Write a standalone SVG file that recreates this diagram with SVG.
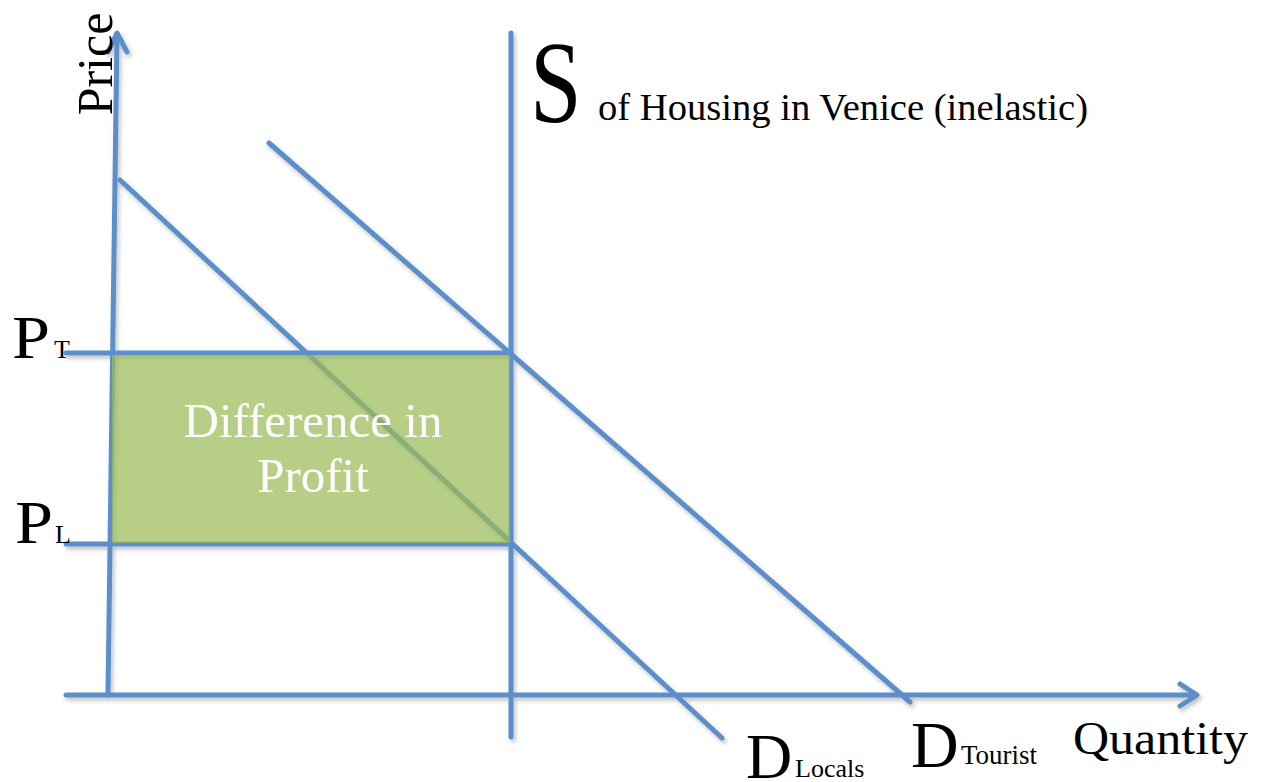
<svg xmlns="http://www.w3.org/2000/svg" width="1261" height="782" viewBox="0 0 1261 782">
<style>
.ln{stroke:#5B8FC9;stroke-width:5;fill:none;stroke-linecap:round;stroke-linejoin:round}
.t{font-family:"Liberation Serif","DejaVu Serif",serif;fill:#000}
.w{font-family:"Liberation Serif","DejaVu Serif",serif;fill:#fff}
</style>
<defs>
<filter id="sh" x="-10%" y="-10%" width="120%" height="120%">
<feDropShadow dx="2" dy="3" stdDeviation="2" flood-color="#000" flood-opacity="0.25"/>
</filter>
</defs>
<rect width="1261" height="782" fill="#fff"/>
<g id="connectors" filter="url(#sh)">
<line class="ln" x1="108" y1="695" x2="117" y2="34"/>
<polyline class="ln" points="108,52 117,33 127,52"/>
<line class="ln" x1="66" y1="695" x2="1196" y2="695"/>
<polyline class="ln" points="1180,684 1197,695 1180,706"/>
<line class="ln" x1="511" y1="33" x2="511" y2="737"/>
<line class="ln" x1="66" y1="353" x2="511" y2="353"/>
<line class="ln" x1="66" y1="544" x2="511" y2="544"/>
<line class="ln" x1="269" y1="143" x2="910" y2="702"/>
<line class="ln" x1="120" y1="180" x2="722" y2="738"/>
</g>
<g id="profit">
<rect x="112" y="355" width="398" height="188" fill="#9BBB59" fill-opacity="0.72"/>
<text class="w" x="313" y="437" font-size="49" text-anchor="middle">Difference in</text>
<text class="w" x="313" y="492" font-size="49" text-anchor="middle">Profit</text>
</g>
<g id="price-label">
<text class="t" transform="translate(112,64) rotate(-90)" font-size="50" text-anchor="middle">Price</text>
</g>
<g id="supply-label">
<text class="t" transform="translate(530,122) scale(0.8,1)" font-size="116">S</text>
<text class="t" x="598" y="120" font-size="37" textLength="490" lengthAdjust="spacingAndGlyphs">of Housing in Venice (inelastic)</text>
</g>
<g id="pt-label">
<text class="t" transform="translate(12,358) scale(1.1,1)" font-size="62">P</text>
<text class="t" x="54" y="358" font-size="26">T</text>
</g>
<g id="pl-label">
<text class="t" transform="translate(15,543) scale(1.1,1)" font-size="62">P</text>
<text class="t" x="55" y="543" font-size="26">L</text>
</g>
<g id="dlocals-label">
<text class="t" x="746" y="778" font-size="64">D</text>
<text class="t" x="795" y="777" font-size="26">Locals</text>
</g>
<g id="dtourist-label">
<text class="t" x="911" y="767" font-size="66">D</text>
<text class="t" x="961" y="764" font-size="27">Tourist</text>
</g>
<g id="quantity-label">
<text class="t" x="1073" y="754" font-size="46" textLength="175" lengthAdjust="spacingAndGlyphs">Quantity</text>
</g>
</svg>
